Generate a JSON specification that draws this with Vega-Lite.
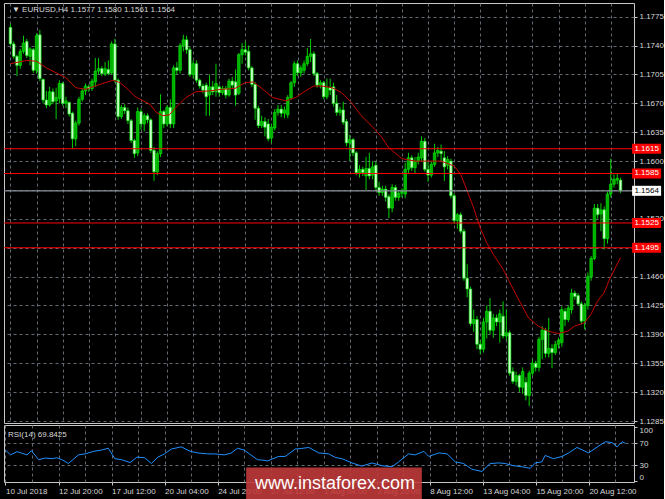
{
"$schema": "https://vega.github.io/schema/vega-lite/v6.json",
"background": "#000000",
"padding": {"left": 2, "top": 2, "right": 0, "bottom": 0},
"spacing": 2,
"bounds": "flush",
"config": {
 "view": {"stroke": "#c8c8c8", "strokeWidth": 1},
 "font": "Liberation Sans",
 "axis": {"labelFont": "Liberation Sans", "labelFontSize": 8, "labelColor": "#d8d8d8", "tickColor": "#c8c8c8", "tickSize": 3, "gridColor": "#646a74", "gridDash": [3, 3], "gridWidth": 1, "domain": false, "title": null, "labelPadding": 2, "labelBound": false, "labelOverlap": false, "zindex": 0, "tickCount": 60}
},
"datasets": {
 "candles": [
{"i":0,"o":1.1762,"h":1.1766,"l":1.1740,"c":1.1742},
{"i":1,"o":1.1742,"h":1.1745,"l":1.1724,"c":1.1727},
{"i":2,"o":1.1727,"h":1.1729,"l":1.1703,"c":1.1716},
{"i":3,"o":1.1716,"h":1.1736,"l":1.1712,"c":1.1733},
{"i":4,"o":1.1733,"h":1.1752,"l":1.1730,"c":1.1743},
{"i":5,"o":1.1745,"h":1.1748,"l":1.1725,"c":1.1728},
{"i":6,"o":1.1727,"h":1.1738,"l":1.1716,"c":1.1736},
{"i":7,"o":1.1735,"h":1.1737,"l":1.1707,"c":1.1710},
{"i":8,"o":1.1710,"h":1.1755,"l":1.1706,"c":1.1752},
{"i":9,"o":1.1753,"h":1.1759,"l":1.1697,"c":1.1700},
{"i":10,"o":1.1699,"h":1.1700,"l":1.1670,"c":1.1674},
{"i":11,"o":1.1674,"h":1.1685,"l":1.1664,"c":1.1668},
{"i":12,"o":1.1668,"h":1.1690,"l":1.1666,"c":1.1684},
{"i":13,"o":1.1684,"h":1.1688,"l":1.1669,"c":1.1672},
{"i":14,"o":1.1673,"h":1.1689,"l":1.1651,"c":1.1677},
{"i":15,"o":1.1676,"h":1.1698,"l":1.1670,"c":1.1694},
{"i":16,"o":1.1694,"h":1.1696,"l":1.1667,"c":1.1670},
{"i":17,"o":1.1670,"h":1.1678,"l":1.1664,"c":1.1673},
{"i":18,"o":1.1671,"h":1.1672,"l":1.1654,"c":1.1657},
{"i":19,"o":1.1658,"h":1.1660,"l":1.1615,"c":1.1627},
{"i":20,"o":1.1627,"h":1.1649,"l":1.1618,"c":1.1646},
{"i":21,"o":1.1646,"h":1.1678,"l":1.1643,"c":1.1675},
{"i":22,"o":1.1675,"h":1.1688,"l":1.1672,"c":1.1685},
{"i":23,"o":1.1685,"h":1.1694,"l":1.1680,"c":1.1691},
{"i":24,"o":1.1690,"h":1.1693,"l":1.1684,"c":1.1688},
{"i":25,"o":1.1688,"h":1.1700,"l":1.1685,"c":1.1697},
{"i":26,"o":1.1696,"h":1.1725,"l":1.1690,"c":1.1709},
{"i":27,"o":1.1709,"h":1.1725,"l":1.1705,"c":1.1712},
{"i":28,"o":1.1712,"h":1.1715,"l":1.1703,"c":1.1706},
{"i":29,"o":1.1706,"h":1.1720,"l":1.1703,"c":1.1712},
{"i":30,"o":1.1711,"h":1.1722,"l":1.1704,"c":1.1706},
{"i":31,"o":1.1707,"h":1.1745,"l":1.1705,"c":1.1742},
{"i":32,"o":1.1742,"h":1.1748,"l":1.1695,"c":1.1698},
{"i":33,"o":1.1698,"h":1.1700,"l":1.1650,"c":1.1654},
{"i":34,"o":1.1654,"h":1.1668,"l":1.1651,"c":1.1665},
{"i":35,"o":1.1665,"h":1.1669,"l":1.1657,"c":1.1661},
{"i":36,"o":1.1661,"h":1.1665,"l":1.1645,"c":1.1649},
{"i":37,"o":1.1649,"h":1.1651,"l":1.1622,"c":1.1625},
{"i":38,"o":1.1625,"h":1.1627,"l":1.1604,"c":1.1609},
{"i":39,"o":1.1610,"h":1.1665,"l":1.1606,"c":1.1660},
{"i":40,"o":1.1660,"h":1.1663,"l":1.1638,"c":1.1645},
{"i":41,"o":1.1645,"h":1.1658,"l":1.1636,"c":1.1655},
{"i":42,"o":1.1655,"h":1.1658,"l":1.1646,"c":1.1650},
{"i":43,"o":1.1650,"h":1.1652,"l":1.1610,"c":1.1613},
{"i":44,"o":1.1613,"h":1.1617,"l":1.1576,"c":1.1587},
{"i":45,"o":1.1587,"h":1.1612,"l":1.1583,"c":1.1609},
{"i":46,"o":1.1609,"h":1.1681,"l":1.1605,"c":1.1660},
{"i":47,"o":1.1660,"h":1.1662,"l":1.1640,"c":1.1645},
{"i":48,"o":1.1645,"h":1.1668,"l":1.1642,"c":1.1665},
{"i":49,"o":1.1665,"h":1.1675,"l":1.1640,"c":1.1645},
{"i":50,"o":1.1645,"h":1.1716,"l":1.1640,"c":1.1713},
{"i":51,"o":1.1713,"h":1.1720,"l":1.1705,"c":1.1710},
{"i":52,"o":1.1710,"h":1.1743,"l":1.1706,"c":1.1740},
{"i":53,"o":1.1740,"h":1.1753,"l":1.1733,"c":1.1747},
{"i":54,"o":1.1747,"h":1.1752,"l":1.1730,"c":1.1735},
{"i":55,"o":1.1735,"h":1.1738,"l":1.1702,"c":1.1705},
{"i":56,"o":1.1705,"h":1.1722,"l":1.1700,"c":1.1718},
{"i":57,"o":1.1718,"h":1.1722,"l":1.1695,"c":1.1698},
{"i":58,"o":1.1698,"h":1.1700,"l":1.1688,"c":1.1691},
{"i":59,"o":1.1691,"h":1.1694,"l":1.1682,"c":1.1686},
{"i":60,"o":1.1692,"h":1.1695,"l":1.1655,"c":1.1678},
{"i":61,"o":1.1680,"h":1.1705,"l":1.1655,"c":1.1690},
{"i":62,"o":1.1690,"h":1.1697,"l":1.1680,"c":1.1684},
{"i":63,"o":1.1684,"h":1.1718,"l":1.1678,"c":1.1694},
{"i":64,"o":1.1690,"h":1.1692,"l":1.1678,"c":1.1683},
{"i":65,"o":1.1683,"h":1.1691,"l":1.1680,"c":1.1688},
{"i":66,"o":1.1688,"h":1.1691,"l":1.1676,"c":1.1680},
{"i":67,"o":1.1680,"h":1.1700,"l":1.1678,"c":1.1697},
{"i":68,"o":1.1697,"h":1.1702,"l":1.1688,"c":1.1692},
{"i":69,"o":1.1696,"h":1.1711,"l":1.1667,"c":1.1680},
{"i":70,"o":1.1682,"h":1.1731,"l":1.1680,"c":1.1729},
{"i":71,"o":1.1729,"h":1.1743,"l":1.1718,"c":1.1735},
{"i":72,"o":1.1735,"h":1.1745,"l":1.1728,"c":1.1732},
{"i":73,"o":1.1733,"h":1.1740,"l":1.1710,"c":1.1713},
{"i":74,"o":1.1713,"h":1.1715,"l":1.1690,"c":1.1693},
{"i":75,"o":1.1693,"h":1.1696,"l":1.1650,"c":1.1664},
{"i":76,"o":1.1664,"h":1.1667,"l":1.1640,"c":1.1643},
{"i":77,"o":1.1643,"h":1.1655,"l":1.1640,"c":1.1648},
{"i":78,"o":1.1648,"h":1.1653,"l":1.1630,"c":1.1641},
{"i":79,"o":1.1645,"h":1.1651,"l":1.1624,"c":1.1627},
{"i":80,"o":1.1628,"h":1.1645,"l":1.1622,"c":1.1641},
{"i":81,"o":1.1640,"h":1.1663,"l":1.1637,"c":1.1659},
{"i":82,"o":1.1659,"h":1.1668,"l":1.1655,"c":1.1663},
{"i":83,"o":1.1663,"h":1.1668,"l":1.1653,"c":1.1658},
{"i":84,"o":1.1658,"h":1.1666,"l":1.1652,"c":1.1662},
{"i":85,"o":1.1656,"h":1.1680,"l":1.1652,"c":1.1677},
{"i":86,"o":1.1677,"h":1.1697,"l":1.1674,"c":1.1695},
{"i":87,"o":1.1695,"h":1.1721,"l":1.1690,"c":1.1718},
{"i":88,"o":1.1718,"h":1.1722,"l":1.1703,"c":1.1707},
{"i":89,"o":1.1707,"h":1.1716,"l":1.1702,"c":1.1713},
{"i":90,"o":1.1710,"h":1.1722,"l":1.1706,"c":1.1718},
{"i":91,"o":1.1718,"h":1.1737,"l":1.1715,"c":1.1727},
{"i":92,"o":1.1727,"h":1.1748,"l":1.1720,"c":1.1730},
{"i":93,"o":1.1730,"h":1.1733,"l":1.1703,"c":1.1706},
{"i":94,"o":1.1706,"h":1.1708,"l":1.1689,"c":1.1692},
{"i":95,"o":1.1692,"h":1.1698,"l":1.1688,"c":1.1695},
{"i":96,"o":1.1695,"h":1.1697,"l":1.1675,"c":1.1678},
{"i":97,"o":1.1678,"h":1.1700,"l":1.1675,"c":1.1689},
{"i":98,"o":1.1689,"h":1.1700,"l":1.1680,"c":1.1686},
{"i":99,"o":1.1690,"h":1.1695,"l":1.1666,"c":1.1670},
{"i":100,"o":1.1670,"h":1.1680,"l":1.1655,"c":1.1659},
{"i":101,"o":1.1659,"h":1.1666,"l":1.1655,"c":1.1662},
{"i":102,"o":1.1662,"h":1.1672,"l":1.1644,"c":1.1647},
{"i":103,"o":1.1648,"h":1.1651,"l":1.1618,"c":1.1622},
{"i":104,"o":1.1622,"h":1.1632,"l":1.1600,"c":1.1626},
{"i":105,"o":1.1626,"h":1.1628,"l":1.1606,"c":1.1610},
{"i":106,"o":1.1610,"h":1.1612,"l":1.1583,"c":1.1586},
{"i":107,"o":1.1586,"h":1.1595,"l":1.1580,"c":1.1590},
{"i":108,"o":1.1590,"h":1.1593,"l":1.1582,"c":1.1586},
{"i":109,"o":1.1582,"h":1.1605,"l":1.1565,"c":1.1591},
{"i":110,"o":1.1591,"h":1.1610,"l":1.1578,"c":1.1582},
{"i":111,"o":1.1583,"h":1.1600,"l":1.1578,"c":1.1593},
{"i":112,"o":1.1595,"h":1.1600,"l":1.1565,"c":1.1568},
{"i":113,"o":1.1568,"h":1.1575,"l":1.1558,"c":1.1562},
{"i":114,"o":1.1562,"h":1.1570,"l":1.1558,"c":1.1566},
{"i":115,"o":1.1566,"h":1.1570,"l":1.1551,"c":1.1556},
{"i":116,"o":1.1557,"h":1.1560,"l":1.1531,"c":1.1543},
{"i":117,"o":1.1543,"h":1.1572,"l":1.1538,"c":1.1568},
{"i":118,"o":1.1568,"h":1.1571,"l":1.1552,"c":1.1556},
{"i":119,"o":1.1556,"h":1.1564,"l":1.1552,"c":1.1561},
{"i":120,"o":1.1561,"h":1.1567,"l":1.1556,"c":1.1564},
{"i":121,"o":1.1560,"h":1.1598,"l":1.1555,"c":1.1590},
{"i":122,"o":1.1590,"h":1.1610,"l":1.1585,"c":1.1604},
{"i":123,"o":1.1604,"h":1.1607,"l":1.1588,"c":1.1592},
{"i":124,"o":1.1592,"h":1.1605,"l":1.1585,"c":1.1600},
{"i":125,"o":1.1600,"h":1.1610,"l":1.1596,"c":1.1605},
{"i":126,"o":1.1604,"h":1.1630,"l":1.1600,"c":1.1624},
{"i":127,"o":1.1624,"h":1.1628,"l":1.1587,"c":1.1590},
{"i":128,"o":1.1590,"h":1.1600,"l":1.1575,"c":1.1583},
{"i":129,"o":1.1583,"h":1.1600,"l":1.1580,"c":1.1596},
{"i":130,"o":1.1596,"h":1.1621,"l":1.1593,"c":1.1610},
{"i":131,"o":1.1610,"h":1.1617,"l":1.1605,"c":1.1613},
{"i":132,"o":1.1612,"h":1.1620,"l":1.1600,"c":1.1609},
{"i":133,"o":1.1604,"h":1.1612,"l":1.1576,"c":1.1593},
{"i":134,"o":1.1595,"h":1.1606,"l":1.1590,"c":1.1602},
{"i":135,"o":1.1600,"h":1.1603,"l":1.1555,"c":1.1558},
{"i":136,"o":1.1558,"h":1.1561,"l":1.1524,"c":1.1528},
{"i":137,"o":1.1528,"h":1.1537,"l":1.1518,"c":1.1535},
{"i":138,"o":1.1535,"h":1.1538,"l":1.1512,"c":1.1515},
{"i":139,"o":1.1515,"h":1.1518,"l":1.1455,"c":1.1458},
{"i":140,"o":1.1458,"h":1.1475,"l":1.1435,"c":1.1445},
{"i":141,"o":1.1445,"h":1.1448,"l":1.1400,"c":1.1403},
{"i":142,"o":1.1403,"h":1.1420,"l":1.1393,"c":1.1408},
{"i":143,"o":1.1408,"h":1.1412,"l":1.1372,"c":1.1378},
{"i":144,"o":1.1378,"h":1.1383,"l":1.1366,"c":1.1372},
{"i":145,"o":1.1372,"h":1.1410,"l":1.1368,"c":1.1405},
{"i":146,"o":1.1405,"h":1.1425,"l":1.1385,"c":1.1418},
{"i":147,"o":1.1418,"h":1.1434,"l":1.1390,"c":1.1395},
{"i":148,"o":1.1395,"h":1.1415,"l":1.1386,"c":1.1410},
{"i":149,"o":1.1410,"h":1.1414,"l":1.1400,"c":1.1405},
{"i":150,"o":1.1405,"h":1.1420,"l":1.1380,"c":1.1415},
{"i":151,"o":1.1412,"h":1.1430,"l":1.1385,"c":1.1388},
{"i":152,"o":1.1388,"h":1.1420,"l":1.1383,"c":1.1392},
{"i":153,"o":1.1392,"h":1.1395,"l":1.1340,"c":1.1343},
{"i":154,"o":1.1345,"h":1.1350,"l":1.1330,"c":1.1333},
{"i":155,"o":1.1333,"h":1.1345,"l":1.1328,"c":1.1340},
{"i":156,"o":1.1340,"h":1.1342,"l":1.1320,"c":1.1326},
{"i":157,"o":1.1326,"h":1.1350,"l":1.1318,"c":1.1345},
{"i":158,"o":1.1332,"h":1.1338,"l":1.1310,"c":1.1316},
{"i":159,"o":1.1316,"h":1.1346,"l":1.1303,"c":1.1343},
{"i":160,"o":1.1343,"h":1.1360,"l":1.1340,"c":1.1355},
{"i":161,"o":1.1355,"h":1.1358,"l":1.1345,"c":1.1350},
{"i":162,"o":1.1350,"h":1.1387,"l":1.1345,"c":1.1384},
{"i":163,"o":1.1384,"h":1.1400,"l":1.1360,"c":1.1395},
{"i":164,"o":1.1395,"h":1.1398,"l":1.1362,"c":1.1367},
{"i":165,"o":1.1367,"h":1.1410,"l":1.1362,"c":1.1373},
{"i":166,"o":1.1373,"h":1.1378,"l":1.1349,"c":1.1368},
{"i":167,"o":1.1368,"h":1.1382,"l":1.1365,"c":1.1378},
{"i":168,"o":1.1378,"h":1.1386,"l":1.1373,"c":1.1383},
{"i":169,"o":1.1380,"h":1.1424,"l":1.1375,"c":1.1420},
{"i":170,"o":1.1418,"h":1.1422,"l":1.1400,"c":1.1408},
{"i":171,"o":1.1408,"h":1.1425,"l":1.1405,"c":1.1422},
{"i":172,"o":1.1420,"h":1.1445,"l":1.1415,"c":1.1440},
{"i":173,"o":1.1440,"h":1.1443,"l":1.1432,"c":1.1436},
{"i":174,"o":1.1437,"h":1.1440,"l":1.1425,"c":1.1427},
{"i":175,"o":1.1427,"h":1.1430,"l":1.1402,"c":1.1406},
{"i":176,"o":1.1406,"h":1.1428,"l":1.1396,"c":1.1425},
{"i":177,"o":1.1425,"h":1.1465,"l":1.1420,"c":1.1460},
{"i":178,"o":1.1460,"h":1.1485,"l":1.1455,"c":1.1482},
{"i":179,"o":1.1482,"h":1.1548,"l":1.1480,"c":1.1543},
{"i":180,"o":1.1543,"h":1.1548,"l":1.1530,"c":1.1535},
{"i":181,"o":1.1536,"h":1.1549,"l":1.1515,"c":1.1541},
{"i":182,"o":1.1541,"h":1.1545,"l":1.1493,"c":1.1506},
{"i":183,"o":1.1506,"h":1.1563,"l":1.1500,"c":1.1560},
{"i":184,"o":1.1560,"h":1.1603,"l":1.1556,"c":1.1572},
{"i":185,"o":1.1572,"h":1.1584,"l":1.1568,"c":1.1578},
{"i":186,"o":1.1577,"h":1.1585,"l":1.1572,"c":1.1579},
{"i":187,"o":1.1577,"h":1.1580,"l":1.1561,"c":1.1564}
 ],
 "ma": [
{"i":0,"v":1.1718},{"i":5,"v":1.1722},{"i":8,"v":1.1721},{"i":11,"v":1.1713},{"i":14,"v":1.1707},{"i":17,"v":1.1701},{"i":20,"v":1.1689},{"i":23,"v":1.1687},{"i":26,"v":1.1691},{"i":29,"v":1.1695},{"i":31.5,"v":1.1698},{"i":33.6,"v":1.1695},{"i":36,"v":1.1687},{"i":38,"v":1.1679},{"i":39.7,"v":1.1675},{"i":42.7,"v":1.1669},{"i":44.7,"v":1.1659},{"i":46.7,"v":1.1655},{"i":48.7,"v":1.1656},{"i":50.7,"v":1.1665},{"i":53.8,"v":1.1677},{"i":56.8,"v":1.1684},{"i":60.8,"v":1.1685},{"i":64.8,"v":1.1687},{"i":68.8,"v":1.1688},{"i":71.9,"v":1.1695},{"i":74.4,"v":1.1696},{"i":77.4,"v":1.1687},{"i":80.4,"v":1.1677},{"i":84.4,"v":1.1673},{"i":87.4,"v":1.1677},{"i":90.4,"v":1.1685},{"i":93,"v":1.1691},{"i":95.5,"v":1.1691},{"i":98.5,"v":1.1689},{"i":101.5,"v":1.1683},{"i":104.5,"v":1.1671},{"i":107.5,"v":1.1655},{"i":110.6,"v":1.1643},{"i":113.6,"v":1.1630},{"i":116,"v":1.1616},{"i":120,"v":1.1603},{"i":124,"v":1.1600},{"i":128,"v":1.1600},{"i":132,"v":1.1600},{"i":136,"v":1.1594},{"i":138,"v":1.1584},{"i":140,"v":1.1564},{"i":142,"v":1.1543},{"i":144,"v":1.1519},{"i":146,"v":1.1501},{"i":148,"v":1.1487},{"i":151,"v":1.1469},{"i":152.8,"v":1.1455},{"i":155.8,"v":1.1432},{"i":158.8,"v":1.1410},{"i":161.8,"v":1.1400},{"i":164.8,"v":1.1394},{"i":167.9,"v":1.1391},{"i":170.9,"v":1.1394},{"i":172.9,"v":1.1400},{"i":175.9,"v":1.1404},{"i":177.9,"v":1.1414},{"i":179.9,"v":1.1430},{"i":181.9,"v":1.1440},{"i":183.9,"v":1.1459},{"i":187,"v":1.1483}
 ],
 "rsi": [
{"i":0,"r":57.6},{"i":1.5,"r":48.8},{"i":3.5,"r":54.7},{"i":6.5,"r":48.8},{"i":7.8,"r":56.5},{"i":10,"r":40},{"i":12,"r":43},{"i":14,"r":41.8},{"i":15.5,"r":43.5},{"i":17,"r":40},{"i":19,"r":33},{"i":22,"r":48.8},{"i":24,"r":50.6},{"i":26.6,"r":55.3},{"i":29,"r":57.6},{"i":31,"r":61},{"i":33,"r":41.8},{"i":35,"r":40},{"i":37.6,"r":34.7},{"i":39.7,"r":44.7},{"i":42,"r":43.5},{"i":44,"r":33},{"i":46,"r":44.7},{"i":48,"r":50.6},{"i":50,"r":59.4},{"i":53,"r":63.5},{"i":55.7,"r":55.3},{"i":58,"r":52.4},{"i":61,"r":50.6},{"i":63,"r":50.6},{"i":66,"r":48.8},{"i":68,"r":51.8},{"i":70,"r":61},{"i":72,"r":57.6},{"i":76,"r":40},{"i":78,"r":38.8},{"i":79,"r":37.6},{"i":82.4,"r":45.9},{"i":84.4,"r":45.9},{"i":87.4,"r":59.4},{"i":89.4,"r":60.6},{"i":91.5,"r":62.4},{"i":94.5,"r":52.4},{"i":97.5,"r":50.6},{"i":99.5,"r":44},{"i":101.5,"r":41.8},{"i":104.5,"r":34},{"i":107.5,"r":28.2},{"i":110.6,"r":34},{"i":113.6,"r":28.8},{"i":116.6,"r":27},{"i":118.6,"r":35.9},{"i":121.6,"r":50.6},{"i":123.6,"r":48.8},{"i":126.2,"r":55.3},{"i":127.7,"r":45.9},{"i":130.7,"r":52.4},{"i":133.2,"r":50.6},{"i":135.7,"r":35.9},{"i":138.2,"r":32.9},{"i":140.7,"r":22.4},{"i":143.7,"r":18.3},{"i":146.2,"r":32.9},{"i":148.8,"r":34},{"i":150.8,"r":32.9},{"i":153.3,"r":28.8},{"i":155.8,"r":27},{"i":158.3,"r":24.1},{"i":159.8,"r":34},{"i":161.8,"r":35.9},{"i":162.8,"r":47.7},{"i":165.3,"r":41.8},{"i":167.9,"r":45.9},{"i":169.9,"r":52.4},{"i":172.4,"r":62.4},{"i":175.9,"r":52.4},{"i":179,"r":65.3},{"i":181,"r":73},{"i":183,"r":71.2},{"i":184.5,"r":63.5},{"i":186,"r":73},{"i":187,"r":69.8}
 ],
 "levels": [{"p":1.1615,"t":"1.1615"},{"p":1.1585,"t":"1.1585"},{"p":1.1525,"t":"1.1525"},{"p":1.1495,"t":"1.1495"}],
 "bid": [{"p":1.1564,"t":"1.1564"}],
 "head": [{"t":"▼ EURUSD,H4  1.1577 1.1580 1.1561 1.1564"}],
 "rsihead": [{"t":"RSI(14) 69.8425"}],
 "wm": [{"t":"www.instaforex.com"}]
},
"vconcat": [
 {
  "width": 630, "height": 420,
  "layer": [
   {"data": {"name": "candles"}, "mark": {"type": "rule", "color": "#00d000", "strokeWidth": 1},
    "encoding": {
     "x": {"field": "i", "type": "quantitative", "scale": {"domain": [-0.45, 189.6], "nice": false, "zero": false}, "axis": {"values": [0,8,16,24,32,40,48,56,64,72,80,88,96,104,112,120,128,136,144,152,160,168,176,184], "tickCount": 60, "labels": false, "ticks": false, "grid": true}},
     "y": {"field": "l", "type": "quantitative", "scale": {"domain": [1.12826, 1.17916], "nice": false, "zero": false}, "axis": {"orient": "right", "values": [1.1285,1.132,1.1355,1.139,1.1425,1.146,1.1495,1.153,1.1565,1.16,1.1635,1.167,1.1705,1.174,1.1775], "tickCount": 60, "format": ".4f", "grid": true, "labelOverlap": false, "zindex": 0,
       "labelOpacity": {"condition": {"test": "abs(datum.value - 1.1565) < 0.0001 || abs(datum.value - 1.1495) < 0.0001", "value": 0}, "value": 1}}},
     "y2": {"field": "h"}
    }},
   {"data": {"name": "candles"}, "mark": {"type": "bar", "size": 2.6, "stroke": "#00f000", "strokeWidth": 0.6},
    "encoding": {
     "x": {"field": "i", "type": "quantitative"},
     "y": {"field": "o", "type": "quantitative"},
     "y2": {"field": "c"},
     "color": {"condition": {"test": "datum.c >= datum.o", "value": "#00b000"}, "value": "#ccffcc"}
    }},
   {"data": {"name": "ma"}, "mark": {"type": "line", "color": "#c80000", "strokeWidth": 1},
    "encoding": {"x": {"field": "i", "type": "quantitative"}, "y": {"field": "v", "type": "quantitative"}}},
   {"data": {"name": "levels"}, "mark": {"type": "rule", "color": "#ff0000", "strokeWidth": 1},
    "encoding": {"y": {"field": "p", "type": "quantitative"}}},
   {"data": {"name": "bid"}, "mark": {"type": "rule", "color": "#8a929c", "strokeWidth": 1.2},
    "encoding": {"y": {"field": "p", "type": "quantitative"}}},
   {"data": {"name": "levels"}, "mark": {"type": "tick", "orient": "horizontal", "size": 29, "thickness": 10, "color": "#ff0000", "opacity": 1},
    "encoding": {"x": {"datum": 195.0, "type": "quantitative"}, "y": {"field": "p", "type": "quantitative"}}},
   {"data": {"name": "levels"}, "mark": {"type": "text", "color": "#ffffff", "fontSize": 8, "font": "Liberation Sans", "align": "center", "baseline": "middle"},
    "encoding": {"x": {"datum": 195.0, "type": "quantitative"}, "y": {"field": "p", "type": "quantitative"}, "text": {"field": "t"}}},
   {"data": {"name": "bid"}, "mark": {"type": "tick", "orient": "horizontal", "size": 29, "thickness": 10, "color": "#ffffff", "opacity": 1},
    "encoding": {"x": {"datum": 195.0, "type": "quantitative"}, "y": {"field": "p", "type": "quantitative"}}},
   {"data": {"name": "bid"}, "mark": {"type": "text", "color": "#000000", "fontSize": 8, "font": "Liberation Sans", "align": "center", "baseline": "middle"},
    "encoding": {"x": {"datum": 195.0, "type": "quantitative"}, "y": {"field": "p", "type": "quantitative"}, "text": {"field": "t"}}},
   {"data": {"name": "head"}, "mark": {"type": "text", "color": "#d8d8d8", "fontSize": 8, "font": "Liberation Sans", "align": "left", "baseline": "alphabetic"},
    "encoding": {"x": {"datum": 0.45, "type": "quantitative"}, "y": {"datum": 1.17801, "type": "quantitative"}, "text": {"field": "t"}}}
  ]
 },
 {
  "width": 630, "height": 57,
  "layer": [
   {"data": {"name": "rsi"}, "mark": {"type": "line", "color": "#1e90ff", "strokeWidth": 1},
    "encoding": {
     "x": {"field": "i", "type": "quantitative", "scale": {"domain": [-0.45, 189.6], "nice": false, "zero": false},
      "axis": {"values": [0,8,16,24,32,40,48,56,64,72,80,88,96,104,112,120,128,136,144,152,160,168,176,184], "tickCount": 60, "grid": true, "labelAlign": "left", "labelFlush": false, "labelBaseline": "top", "labelOverlap": false, "zindex": 0,
       "labelExpr": "datum.value % 16 == 0 ? ['10 Jul 2018','12 Jul 20:00','17 Jul 12:00','20 Jul 04:00','24 Jul 20:00','27 Jul 12:00','1 Aug 04:00','3 Aug 20:00','8 Aug 12:00','13 Aug 04:00','15 Aug 20:00','20 Aug 12:00'][datum.value / 16] : ''",
       "tickOpacity": {"condition": {"test": "datum.value % 16 == 0", "value": 1}, "value": 0}}},
     "y": {"field": "r", "type": "quantitative", "scale": {"domain": [-1, 103.6], "nice": false, "zero": false},
      "axis": {"orient": "right", "values": [0, 30, 70, 100], "tickCount": 60, "grid": true, "labelFlush": 5, "labelOverlap": false, "zindex": 0,
       "gridOpacity": {"condition": {"test": "datum.value == 30 || datum.value == 70", "value": 1}, "value": 0}}}
    }},
   {"data": {"name": "rsihead"}, "mark": {"type": "text", "color": "#d8d8d8", "fontSize": 8, "font": "Liberation Sans", "align": "left", "baseline": "alphabetic"},
    "encoding": {"x": {"datum": 0.75, "type": "quantitative"}, "y": {"datum": 80.7, "type": "quantitative"}, "text": {"field": "t"}}},
   {"data": {"name": "wm"}, "mark": {"type": "rect", "color": "#c03a3a", "opacity": 0.9},
    "encoding": {"x": {"datum": 72.6, "type": "quantitative"}, "x2": {"datum": 125.6}, "y": {"datum": 25.5, "type": "quantitative"}, "y2": {"datum": -34}}},
   {"data": {"name": "wm"}, "mark": {"type": "text", "color": "#ffffff", "fontSize": 18, "font": "Liberation Sans", "align": "center", "baseline": "alphabetic"},
    "encoding": {"x": {"datum": 99.4, "type": "quantitative"}, "y": {"datum": -14.0, "type": "quantitative"}, "text": {"field": "t"}}}
  ]
 }
]
}
